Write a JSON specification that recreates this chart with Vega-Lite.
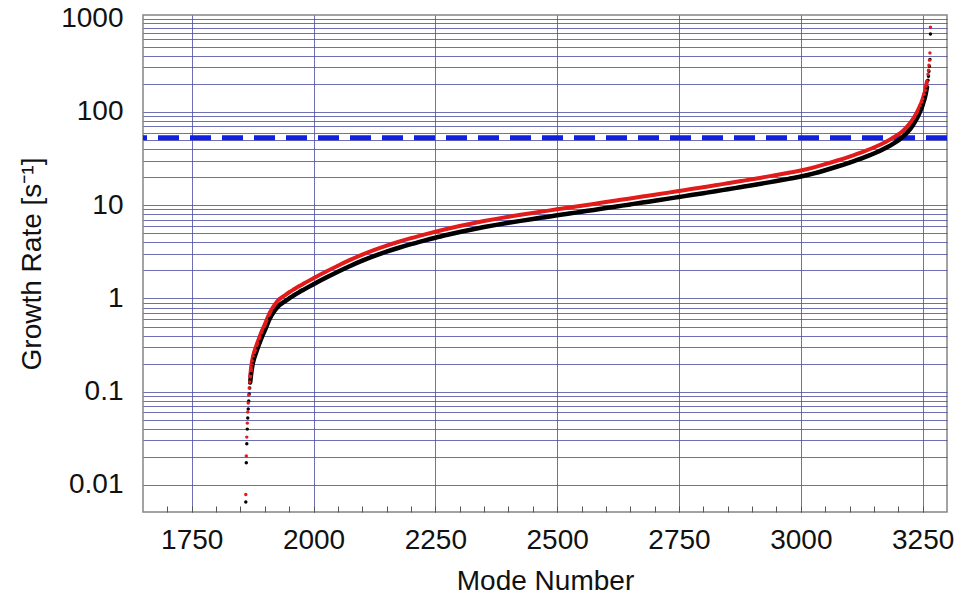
{
  "$schema": "https://vega.github.io/schema/vega-lite/v6.json",
  "width": 804,
  "height": 497,
  "autosize": "none",
  "padding": {"left": 143, "top": 15, "right": 19, "bottom": 84},
  "background": "white",
  "config": {
    "view": {"stroke": "#858585", "strokeWidth": 1.5},
    "font": "Liberation Sans",
    "axis": {
      "labelFont": "Liberation Sans",
      "titleFont": "Liberation Sans",
      "labelFontSize": 28,
      "titleFontSize": 28,
      "labelColor": "#111111",
      "titleColor": "#111111",
      "titleFontWeight": "normal",
      "labelOverlap": false,
      "labelFlush": false,
      "labelBound": false,
      "domain": false,
      "gridWidth": 1
    }
  },
  "datasets": {
    "modes": [
      {"m": 1861, "black": 0.00656, "red": 0.0079},
      {"m": 1862, "black": 0.0173, "red": 0.0205},
      {"m": 1863, "black": 0.0276, "red": 0.0326},
      {"m": 1864, "black": 0.03971, "red": 0.04606},
      {"m": 1865, "black": 0.05215, "red": 0.06049},
      {"m": 1866, "black": 0.06516, "red": 0.07559},
      {"m": 1867, "black": 0.07943, "red": 0.09214},
      {"m": 1868, "black": 0.09447, "red": 0.1096},
      {"m": 1869, "black": 0.1096, "red": 0.1271},
      {"m": 1870, "black": 0.1256, "red": 0.1457},
      {"m": 1872, "black": 0.1569, "red": 0.182},
      {"m": 1874, "black": 0.1843, "red": 0.2138},
      {"m": 1876, "black": 0.2087, "red": 0.2421},
      {"m": 1878, "black": 0.2275, "red": 0.2639},
      {"m": 1880, "black": 0.2449, "red": 0.2841},
      {"m": 1885, "black": 0.2913, "red": 0.3379},
      {"m": 1890, "black": 0.3423, "red": 0.3971},
      {"m": 1895, "black": 0.3971, "red": 0.4606},
      {"m": 1900, "black": 0.455, "red": 0.5278},
      {"m": 1910, "black": 0.6047, "red": 0.7015},
      {"m": 1920, "black": 0.7374, "red": 0.8554},
      {"m": 1930, "black": 0.8492, "red": 0.9851},
      {"m": 1940, "black": 0.9239, "red": 1.072},
      {"m": 1950, "black": 1.005, "red": 1.166},
      {"m": 1960, "black": 1.082, "red": 1.255},
      {"m": 1970, "black": 1.163, "red": 1.349},
      {"m": 1980, "black": 1.245, "red": 1.444},
      {"m": 1990, "black": 1.331, "red": 1.544},
      {"m": 2000, "black": 1.421, "red": 1.648},
      {"m": 2025, "black": 1.665, "red": 1.931},
      {"m": 2050, "black": 1.937, "red": 2.247},
      {"m": 2075, "black": 2.233, "red": 2.59},
      {"m": 2100, "black": 2.544, "red": 2.951},
      {"m": 2125, "black": 2.861, "red": 3.319},
      {"m": 2150, "black": 3.182, "red": 3.691},
      {"m": 2175, "black": 3.5, "red": 4.06},
      {"m": 2200, "black": 3.823, "red": 4.435},
      {"m": 2225, "black": 4.147, "red": 4.811},
      {"m": 2250, "black": 4.483, "red": 5.2},
      {"m": 2275, "black": 4.817, "red": 5.588},
      {"m": 2300, "black": 5.158, "red": 5.983},
      {"m": 2325, "black": 5.493, "red": 6.372},
      {"m": 2350, "black": 5.829, "red": 6.762},
      {"m": 2375, "black": 6.154, "red": 7.139},
      {"m": 2400, "black": 6.476, "red": 7.512},
      {"m": 2425, "black": 6.797, "red": 7.885},
      {"m": 2450, "black": 7.124, "red": 8.264},
      {"m": 2475, "black": 7.447, "red": 8.639},
      {"m": 2500, "black": 7.787, "red": 9.033},
      {"m": 2525, "black": 8.143, "red": 9.446},
      {"m": 2550, "black": 8.514, "red": 9.876},
      {"m": 2575, "black": 8.903, "red": 10.33},
      {"m": 2600, "black": 9.331, "red": 10.82},
      {"m": 2625, "black": 9.754, "red": 11.31},
      {"m": 2650, "black": 10.2, "red": 11.83},
      {"m": 2675, "black": 10.67, "red": 12.38},
      {"m": 2700, "black": 11.18, "red": 12.97},
      {"m": 2725, "black": 11.69, "red": 13.56},
      {"m": 2750, "black": 12.25, "red": 14.21},
      {"m": 2775, "black": 12.84, "red": 14.89},
      {"m": 2800, "black": 13.46, "red": 15.61},
      {"m": 2825, "black": 14.11, "red": 16.37},
      {"m": 2850, "black": 14.83, "red": 17.2},
      {"m": 2875, "black": 15.58, "red": 18.07},
      {"m": 2900, "black": 16.37, "red": 18.99},
      {"m": 2925, "black": 17.25, "red": 20.01},
      {"m": 2950, "black": 18.16, "red": 21.07},
      {"m": 2975, "black": 19.18, "red": 22.25},
      {"m": 3000, "black": 20.3, "red": 23.55},
      {"m": 3025, "black": 21.82, "red": 25.31},
      {"m": 3050, "black": 23.73, "red": 27.53},
      {"m": 3075, "black": 26.01, "red": 30.17},
      {"m": 3100, "black": 28.68, "red": 33.27},
      {"m": 3125, "black": 31.85, "red": 36.95},
      {"m": 3150, "black": 35.84, "red": 41.57},
      {"m": 3175, "black": 41.32, "red": 47.93},
      {"m": 3200, "black": 49.45, "red": 57.36},
      {"m": 3210, "black": 54.31, "red": 63},
      {"m": 3220, "black": 61.47, "red": 71.31},
      {"m": 3230, "black": 72.21, "red": 83.76},
      {"m": 3235, "black": 79.54, "red": 92.27},
      {"m": 3240, "black": 88.89, "red": 103.1},
      {"m": 3245, "black": 101.4, "red": 117.6},
      {"m": 3248, "black": 110.7, "red": 128.4},
      {"m": 3250, "black": 118.7, "red": 137.7},
      {"m": 3253, "black": 133.6, "red": 155},
      {"m": 3255, "black": 145.7, "red": 169},
      {"m": 3257, "black": 162.8, "red": 188.8},
      {"m": 3259, "black": 184.3, "red": 213.8},
      {"m": 3261, "black": 219.2, "red": 254.3},
      {"m": 3262, "black": 242, "red": 280.7},
      {"m": 3263, "black": 273.9, "red": 317.7},
      {"m": 3264, "black": 310, "red": 359.6},
      {"m": 3265, "black": 366, "red": 430},
      {"m": 3266, "black": 684, "red": 808}
    ],
    "threshold": [{"rate": 53}]
  },
  "layer": [
    {
      "data": {"name": "threshold"},
      "mark": {"type": "rule", "color": "#1020e0", "strokeWidth": 5, "strokeDash": [21, 11]},
      "encoding": {
        "y": {
          "field": "rate",
          "type": "quantitative",
          "scale": {"type": "log", "domain": [0.00513, 1096], "nice": false},
          "axis": {
            "title": "Growth Rate [s⁻¹]",
            "values": [0.01, 0.02, 0.03, 0.04, 0.05, 0.06, 0.07, 0.08, 0.09, 0.1, 0.2, 0.3, 0.4, 0.5, 0.6, 0.7, 0.8, 0.9, 1, 2, 3, 4, 5, 6, 7, 8, 9, 10, 20, 30, 40, 50, 60, 70, 80, 90, 100, 200, 300, 400, 500, 600, 700, 800, 900, 1000],
            "tickCount": 200,
            "format": "~g",
            "labelExpr": "(datum.value == 0.01 || datum.value == 0.1 || datum.value == 1 || datum.value == 10 || datum.value == 100 || datum.value == 1000) ? datum.label : ''",
            "labelOverlap": false,
            "ticks": false,
            "grid": true,
            "gridColor": "#4b4ba0",
            "gridOpacity": 0.8,
            "labelPadding": 20,
            "titlePadding": 14
          }
        }
      }
    },
    {
      "data": {"name": "modes"},
      "transform": [{"filter": "datum.m >= 1870 && datum.m <= 3259"}],
      "mark": {"type": "line", "color": "#000000", "strokeWidth": 4.5, "strokeCap": "round", "interpolate": "monotone"},
      "encoding": {
        "x": {
          "field": "m",
          "type": "quantitative",
          "scale": {"domain": [1650, 3300], "nice": false, "zero": false},
          "axis": {
            "title": "Mode Number",
            "values": [1700, 1750, 1800, 1850, 1900, 1950, 2000, 2050, 2100, 2150, 2200, 2250, 2300, 2350, 2400, 2450, 2500, 2550, 2600, 2650, 2700, 2750, 2800, 2850, 2900, 2950, 3000, 3050, 3100, 3150, 3200, 3250],
            "tickCount": 200,
            "format": "d",
            "labelExpr": "datum.value % 250 === 0 ? datum.label : ''",
            "labelOverlap": false,
            "tickSize": -6,
            "tickColor": "#555555",
            "grid": true,
            "gridColor": "#4b4ba0",
            "gridOpacity": {"condition": {"test": "datum.value % 250 === 0", "value": 0.8}, "value": 0},
            "labelPadding": 20,
            "titlePadding": 13
          }
        },
        "y": {"field": "black", "type": "quantitative"}
      }
    },
    {
      "data": {"name": "modes"},
      "transform": [{"filter": "datum.m >= 1870 && datum.m <= 3259"}],
      "mark": {"type": "line", "color": "#e21b1b", "strokeWidth": 4, "strokeCap": "round", "interpolate": "monotone"},
      "encoding": {
        "x": {"field": "m", "type": "quantitative"},
        "y": {"field": "red", "type": "quantitative"}
      }
    },
    {
      "data": {"name": "modes"},
      "mark": {"type": "point", "filled": true, "color": "#000000", "size": 12, "opacity": 1},
      "encoding": {
        "x": {"field": "m", "type": "quantitative"},
        "y": {"field": "black", "type": "quantitative"}
      }
    },
    {
      "data": {"name": "modes"},
      "mark": {"type": "point", "filled": true, "color": "#e21b1b", "size": 12, "opacity": 1},
      "encoding": {
        "x": {"field": "m", "type": "quantitative"},
        "y": {"field": "red", "type": "quantitative"}
      }
    }
  ]
}
